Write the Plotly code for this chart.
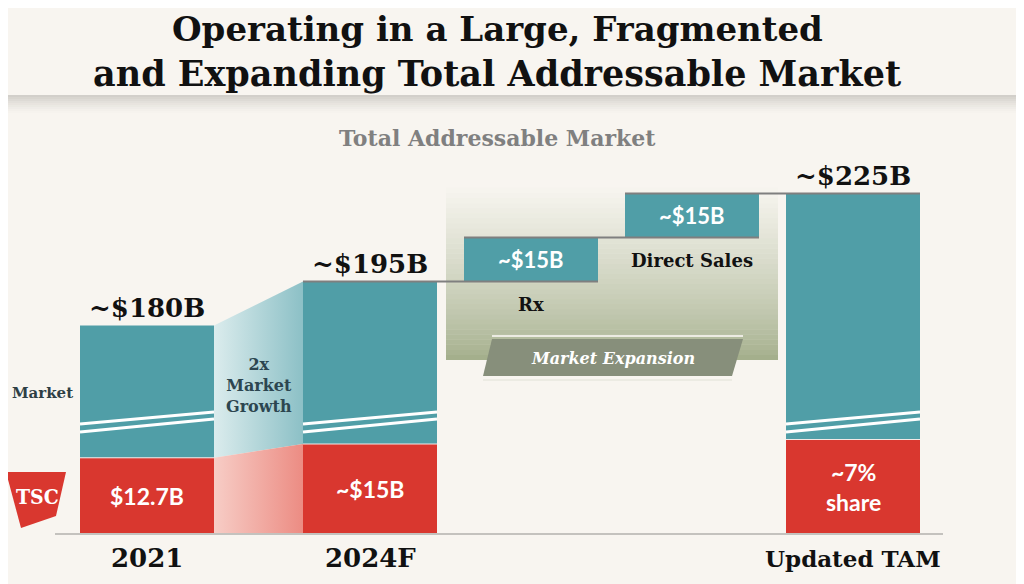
import numpy as np
import plotly.graph_objects as go

# ----------------------------
# Chart values ($B)
# ----------------------------
periods = ["2021", "2024F"]
tam_totals = [180, 195]              # total addressable market
tsc_sales = [12.7, 15]               # TSC sales inside the market
expansion_names = ["Rx", "Direct Sales"]
expansion_adds = [15, 15]            # market expansion steps
updated_label = "Updated TAM"
tsc_share_pct = 7                    # share of the updated TAM

top_labels = ["~$180B", "~$195B", "~$225B"]
tsc_labels = ["$12.7B", "~$15B", "~7%<br>share"]
expansion_labels = ["~$15B", "~$15B"]

# ----------------------------
# Look and feel
# ----------------------------
BG = "#f8f5f0"
TEAL = "#509ea7"
RED = "#d9372f"
GREY_LINE = "#7f7f7f"
SERIF = "DejaVu Serif"
SANS = "Lato"

# slot centres on the x axis (page pixels)
BAR_X = [147, 370, 531, 692, 853]
BAR_W = 134

# the page puts the plot 8px in from the top-left corner
PAGE_PAD = 8

# broken value axis: the teal part is compressed, the red part is not
RED_PX_PER_B = 6.0
TOP_PX_PER_B = 2.933
TOP_OFFSET = -319.5


def tsc_h(v):
    return v * RED_PX_PER_B


def tam_h(v):
    return TOP_OFFSET + v * TOP_PX_PER_B


# ----------------------------
# Derived geometry
# ----------------------------
levels = np.cumsum([tam_totals[-1]] + expansion_adds)      # 195, 210, 225
updated_tam = levels[-1]
updated_tsc = updated_tam * tsc_share_pct / 100.0

red_tops = [tsc_h(tsc_sales[0]), tsc_h(tsc_sales[1]), tsc_h(updated_tsc)]
red_x = [BAR_X[0], BAR_X[1], BAR_X[4]]

teal_base = [red_tops[0], red_tops[1], tam_h(levels[0]), tam_h(levels[1]), red_tops[2]]
teal_top = [tam_h(tam_totals[0]), tam_h(tam_totals[1]), tam_h(levels[1]), tam_h(levels[2]),
            tam_h(updated_tam)]
teal_len = [t - b for t, b in zip(teal_top, teal_base)]

left = [x - BAR_W / 2 for x in BAR_X]
right = [x + BAR_W / 2 for x in BAR_X]


def blend(c1, c2, t):
    a = np.array([int(c1[i:i + 2], 16) for i in (1, 3, 5)])
    b = np.array([int(c2[i:i + 2], 16) for i in (1, 3, 5)])
    c = (a + (b - a) * t).round().astype(int)
    return "rgb(%d,%d,%d)" % tuple(c)


shapes = []

# header shadow
for k in range(9):
    shapes.append(dict(type="rect", xref="x", yref="y", x0=0, x1=1040,
                       y0=439 - 2 * k - 2, y1=439 - 2 * k, line=dict(width=0),
                       fillcolor="#8a8780", opacity=0.34 * (1 - k / 9) ** 1.4, layer="below"))

# market expansion backdrop (vertical fade)
n_strip = 34
y_lo, y_hi = 174, 346
for k in range(n_strip):
    y0 = y_lo + (y_hi - y_lo) * k / n_strip
    y1 = y_lo + (y_hi - y_lo) * (k + 1) / n_strip
    shapes.append(dict(type="rect", xref="x", yref="y", x0=446, x1=778, y0=y0, y1=y1 + 0.5,
                       line=dict(width=0), layer="below",
                       fillcolor=blend("#a4af8c", "#f6f4ee", (k / (n_strip - 1)) ** 0.8)))

# baseline
shapes.append(dict(type="line", xref="x", yref="y", x0=55, x1=943, y0=0, y1=0,
                   line=dict(color="#c4c2be", width=2), layer="above"))

# waterfall connector lines
for i in range(3):
    shapes.append(dict(type="line", xref="x", yref="y",
                       x0=left[i + 1], x1=right[i + 2],
                       y0=tam_h(levels[i]), y1=tam_h(levels[i]),
                       line=dict(color=GREY_LINE, width=2), layer="above"))

# thin white seam between red and teal
for xc, rt in zip(red_x, red_tops):
    shapes.append(dict(type="line", xref="x", yref="y", x0=xc - BAR_W / 2, x1=xc + BAR_W / 2,
                       y0=rt, y1=rt, line=dict(color="#f3e9e6", width=1), layer="above"))

# axis-break marks on the full bars
for xc in red_x:
    for y0, y1 in [(102, 115), (110, 122)]:
        shapes.append(dict(type="line", xref="x", yref="y", x0=xc - BAR_W / 2, x1=xc + BAR_W / 2,
                           y0=y0, y1=y1, line=dict(color="white", width=3), layer="above"))

# ribbon edges
shapes.append(dict(type="line", xref="x", yref="y", x0=492, x1=743, y0=198, y1=198,
                   line=dict(color="#ecebe3", width=2)))
shapes.append(dict(type="line", xref="x", yref="y", x0=483, x1=732, y0=154, y1=154,
                   line=dict(color="#ecebe3", width=2)))

# TSC logo
shapes.append(dict(type="path", xref="x", yref="y", path="M 6,62 L 66,62 L 56,18 L 21,6 Z",
                   fillcolor=RED, line=dict(width=0)))

# ----------------------------
# Traces
# ----------------------------
fig = go.Figure()

fig.add_trace(go.Bar(x=red_x, y=red_tops, base=[0, 0, 0], width=BAR_W,
                     marker=dict(color=RED, line=dict(width=0)), hoverinfo="skip",
                     name="TSC"))
fig.add_trace(go.Bar(x=BAR_X, y=teal_len, base=teal_base, width=BAR_W,
                     marker=dict(color=TEAL, line=dict(width=0)), hoverinfo="skip",
                     name="Market"))

# growth connector between 2021 and 2024F
fig.add_trace(go.Scatter(x=[right[0], left[1], left[1], right[0]],
                         y=[teal_top[0], teal_top[1], red_tops[1], red_tops[0]],
                         fill="toself", mode="lines", line=dict(width=0, color="rgba(0,0,0,0)"),
                         fillgradient=dict(type="horizontal",
                                           colorscale=[[0, "#dbeced"], [1, "#8cc0c6"]]),
                         hoverinfo="skip", showlegend=False))
fig.add_trace(go.Scatter(x=[right[0], left[1], left[1], right[0]],
                         y=[red_tops[0], red_tops[1], 0, 0],
                         fill="toself", mode="lines", line=dict(width=0, color="rgba(0,0,0,0)"),
                         fillgradient=dict(type="horizontal",
                                           colorscale=[[0, "#f7cdc6"], [1, "#ec8c83"]]),
                         hoverinfo="skip", showlegend=False))

# market expansion ribbon
fig.add_trace(go.Scatter(x=[492, 743, 732, 483], y=[195, 195, 158, 158],
                         fill="toself", mode="lines", line=dict(width=0, color="rgba(0,0,0,0)"),
                         fillcolor="#878f7b", hoverinfo="skip", showlegend=False))

# ----------------------------
# Text
# ----------------------------
ann = []


def add_text(x, y, text, size, color, family=SERIF, **kw):
    ann.append(dict(x=x, y=y, xref="x", yref="y", text=text, showarrow=False,
                    font=dict(family=family, size=size, color=color), **kw))


add_text(497, 505, "<b>Operating in a Large, Fragmented</b>", 34, "#111111")
add_text(497, 461, "<b>and Expanding Total Addressable Market</b>", 35, "#111111")
add_text(497, 396, "<b>Total Addressable Market</b>", 22, "#808080")

# totals above bars
for i, lbl in zip([0, 1, 4], top_labels):
    add_text(BAR_X[i], teal_top[i], "<b>%s</b>" % lbl, 26, "#111111", yanchor="bottom", yshift=1)

# TSC values in the red segments
for xc, rt, lbl in zip(red_x, red_tops, tsc_labels):
    add_text(xc, rt / 2, "<b>%s</b>" % lbl, 23, "white", family=SANS)

# expansion blocks
for j, lbl in enumerate(expansion_labels):
    k = j + 2
    add_text(BAR_X[k], teal_base[k] + teal_len[k] / 2, "<b>%s</b>" % lbl, 22, "white", family=SANS)
    add_text(BAR_X[k], teal_base[k], "<b>%s</b>" % expansion_names[j], 18, "#111111",
             yanchor="middle", yshift=-23)

add_text(613, 176, "<b><i>Market Expansion</i></b>", 16, "white")
add_text((right[0] + left[1]) / 2, 149, "<b>2x<br>Market<br>Growth</b>", 16, "#2c4650")
add_text(10, 141, "<b>Market</b>", 15, "#2e3f45", xanchor="left")
add_text(37, 38, "<b>TSC</b>", 21, "white", family="DejaVu Serif Condensed")

# category labels
for xc, lbl in zip(red_x, periods + [updated_label]):
    add_text(xc, -24, "<b>%s</b>" % lbl, 26 if lbl != updated_label else 23, "#111111")

fig.update_layout(
    width=1024, height=584,
    margin=dict(l=0, r=0, t=0, b=0),
    paper_bgcolor=BG, plot_bgcolor=BG,
    showlegend=False,
    barmode="overlay",
    xaxis=dict(range=[PAGE_PAD, 1024 + PAGE_PAD], visible=False, fixedrange=True),
    yaxis=dict(range=[-50 - PAGE_PAD, 534 - PAGE_PAD], visible=False, fixedrange=True),
    shapes=shapes,
    annotations=ann,
)

fig.write_html("out.html")
